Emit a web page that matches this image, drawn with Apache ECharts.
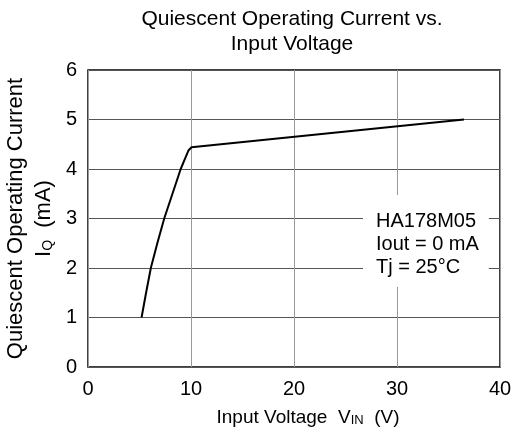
<!DOCTYPE html>
<html>
<head>
<meta charset="utf-8">
<script src="https://cdn.jsdelivr.net/npm/echarts@6/dist/echarts.min.js"></script>
<style>
  html, body { margin: 0; padding: 0; background: #fff; }
  #chart { width: 513px; height: 441px; }
</style>
</head>
<body>
<div id="chart"></div>
<script>
const FONT = 'Liberation Sans, Arial, sans-serif';

// curve: input voltage (V) vs quiescent current (mA)
const vin = [5.2, 5.63, 6.1, 6.73, 7.4, 8.2, 9.0, 9.42, 9.77, 10.05, 36.5];
const iq  = [1.0, 1.49, 2.0, 2.5, 3.0, 3.5, 4.0, 4.21, 4.38, 4.44, 5.0];

const xTicks = [0, 10, 20, 30, 40];
const yTicks = [0, 1, 2, 3, 4, 5, 6];
const notes = ['HA178M05', 'Iout = 0 mA', 'Tj = 25°C'];

const chart = echarts.init(document.getElementById('chart'));

chart.setOption({
  animation: false,
  backgroundColor: '#fff',
  textStyle: { fontFamily: FONT },
  title: {
    text: 'Quiescent Operating Current vs.\nInput Voltage',
    left: 287,
    textAlign: 'center',
    top: 2,
    textStyle: { fontFamily: FONT, fontSize: 21, fontWeight: 'normal', color: '#000', lineHeight: 25 }
  },
  grid: {
    left: 88, top: 70, right: 13, bottom: 74,
    outerBoundsMode: 'none',
    containLabel: false,
    show: true, borderColor: '#000', borderWidth: 1.5
  },
  xAxis: {
    type: 'value',
    min: xTicks[0],
    max: xTicks[xTicks.length - 1],
    interval: 10,
    axisLine: { show: false },
    axisTick: { show: false },
    splitLine: { lineStyle: { color: '#999', width: 1 } },
    axisLabel: { fontSize: 20, color: '#000', margin: 12, fontFamily: FONT },
    name: '{t|Input Voltage  V}{sub|IN}{t|  (V)}',
    nameLocation: 'middle',
    nameGap: 36,
    nameTextStyle: {
      padding: [0, 0, 0, 28],
      rich: {
        t: { fontSize: 19, color: '#000', fontFamily: FONT, lineHeight: 24, verticalAlign: 'bottom' },
        sub: { fontSize: 13, color: '#000', fontFamily: FONT, lineHeight: 16, verticalAlign: 'bottom' }
      }
    }
  },
  yAxis: {
    type: 'value',
    min: yTicks[0],
    max: yTicks[yTicks.length - 1],
    interval: 1,
    axisLine: { show: false },
    axisTick: { show: false },
    splitLine: { lineStyle: { color: '#555', width: 1 } },
    axisLabel: { fontSize: 20, color: '#000', margin: 11, fontFamily: FONT },
    name: '{t|Quiescent Operating Current}\n{t|I}{sub|Q}{t|  (mA)}',
    nameLocation: 'middle',
    nameRotate: 90,
    nameGap: 24,
    nameTextStyle: {
      rich: {
        t: { fontSize: 22, color: '#000', fontFamily: FONT, lineHeight: 28, verticalAlign: 'bottom' },
        sub: { fontSize: 14, color: '#000', fontFamily: FONT, lineHeight: 20, verticalAlign: 'bottom' }
      }
    }
  },
  series: [{
    type: 'line',
    data: vin.map((v, i) => [v, iq[i]]),
    showSymbol: false,
    smooth: false,
    lineStyle: { color: '#000', width: 2 },
    z: 3
  }],
  graphic: [{
    type: 'text',
    left: 363,
    top: 195,
    z: 10,
    style: {
      text: notes.join('\n'),
      font: '20px ' + FONT,
      fill: '#000',
      lineHeight: 23,
      backgroundColor: '#fff',
      padding: [15, 10, 8, 13]
    }
  }]
});
</script>
</body>
</html>
